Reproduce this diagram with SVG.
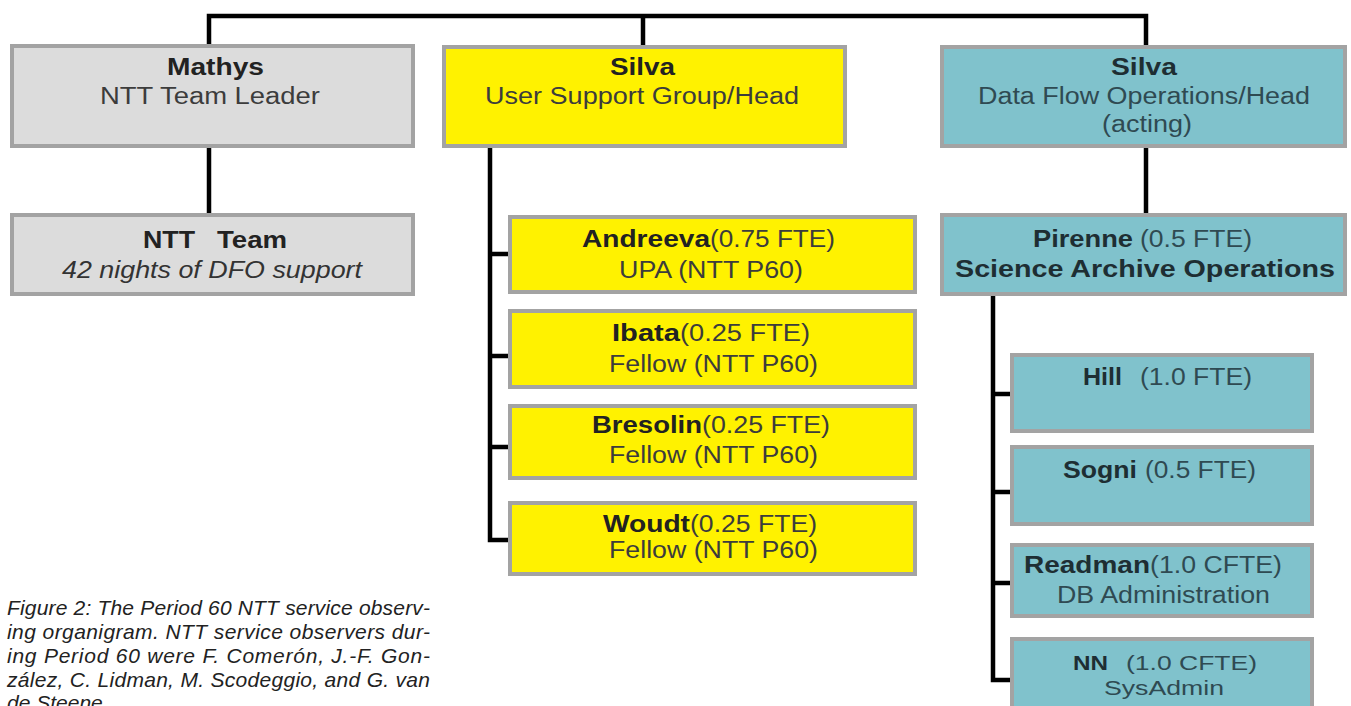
<svg xmlns="http://www.w3.org/2000/svg" width="1351" height="706" viewBox="0 0 1351 706">
<style>
.box{stroke:#a3a3a3;stroke-width:4}
.gray{fill:#dcdcdc}
.yel{fill:#fff200}
.cyan{fill:#80c2cc}
text{font-family:"Liberation Sans",Arial,sans-serif;font-size:23px}
.b{font-weight:bold;fill:#222}
.r{fill:#3c3c3c}
.rc{fill:#2f4a52}
.bc{font-weight:bold;fill:#1e2e33}
.it{font-style:italic;fill:#333}
.cap{font-style:italic;fill:#222;font-size:21px}
.sm{font-size:20px}
.conn{fill:none;stroke:#000;stroke-width:4.5}
</style>
<g id="connectors">
<path class="conn" d="M209 44 V16 H1146 V45"/>
<path class="conn" d="M643 16 V45"/>
<path class="conn" d="M209 148 V213"/>
<path class="conn" d="M1146 148 V213"/>
<path class="conn" d="M490 148 V540 H508"/>
<path class="conn" d="M490 254 H508 M490 356 H508 M490 447 H508"/>
<path class="conn" d="M993 295 V680 H1010"/>
<path class="conn" d="M993 394 H1010 M993 492 H1010 M993 583 H1010"/>
</g>
<g id="mathys">
<rect class="box gray" x="12" y="46" width="401" height="100"/>
<text class="b" x="167" y="75" textLength="97" lengthAdjust="spacingAndGlyphs">Mathys</text>
<text class="r" x="100" y="104" textLength="220" lengthAdjust="spacingAndGlyphs">NTT Team Leader</text>
</g>
<g id="ntt-team">
<rect class="box gray" x="12" y="215" width="401" height="79"/>
<text class="b" x="143" y="248" textLength="52" lengthAdjust="spacingAndGlyphs">NTT</text>
<text class="b" x="217" y="248" textLength="70" lengthAdjust="spacingAndGlyphs">Team</text>
<text class="it" x="62" y="278" textLength="300" lengthAdjust="spacingAndGlyphs">42 nights of DFO support</text>
</g>
<g id="silva-usg">
<rect class="box yel" x="444" y="47" width="401" height="99"/>
<text class="b" x="610" y="75" textLength="65" lengthAdjust="spacingAndGlyphs">Silva</text>
<text class="r" x="485" y="104" textLength="314" lengthAdjust="spacingAndGlyphs">User Support Group/Head</text>
</g>
<g id="silva-dfo">
<rect class="box cyan" x="942" y="47" width="403" height="99"/>
<text class="bc" x="1111" y="75" textLength="66" lengthAdjust="spacingAndGlyphs">Silva</text>
<text class="rc" x="978" y="104" textLength="332" lengthAdjust="spacingAndGlyphs">Data Flow Operations/Head</text>
<text class="rc" x="1102" y="132" textLength="90" lengthAdjust="spacingAndGlyphs">(acting)</text>
</g>
<g id="andreeva">
<rect class="box yel" x="510" y="217" width="405" height="75"/>
<text class="b" x="582" y="247" textLength="128" lengthAdjust="spacingAndGlyphs">Andreeva</text>
<text class="r" x="710" y="247" textLength="125" lengthAdjust="spacingAndGlyphs">(0.75 FTE)</text>
<text class="r" x="619" y="278" textLength="184" lengthAdjust="spacingAndGlyphs">UPA (NTT P60)</text>
</g>
<g id="ibata">
<rect class="box yel" x="510" y="311" width="405" height="76"/>
<text class="b" x="612" y="341" textLength="68" lengthAdjust="spacingAndGlyphs">Ibata</text>
<text class="r" x="680" y="341" textLength="130" lengthAdjust="spacingAndGlyphs">(0.25 FTE)</text>
<text class="r" x="609" y="372" textLength="209" lengthAdjust="spacingAndGlyphs">Fellow (NTT P60)</text>
</g>
<g id="bresolin">
<rect class="box yel" x="510" y="406" width="405" height="72"/>
<text class="b" x="592" y="433" textLength="110" lengthAdjust="spacingAndGlyphs">Bresolin</text>
<text class="r" x="702" y="433" textLength="128" lengthAdjust="spacingAndGlyphs">(0.25 FTE)</text>
<text class="r" x="609" y="463" textLength="209" lengthAdjust="spacingAndGlyphs">Fellow (NTT P60)</text>
</g>
<g id="woudt">
<rect class="box yel" x="510" y="503" width="405" height="71"/>
<text class="b" x="603" y="532" textLength="87" lengthAdjust="spacingAndGlyphs">Woudt</text>
<text class="r" x="690" y="532" textLength="127" lengthAdjust="spacingAndGlyphs">(0.25 FTE)</text>
<text class="r" x="609" y="558" textLength="209" lengthAdjust="spacingAndGlyphs">Fellow (NTT P60)</text>
</g>
<g id="pirenne">
<rect class="box cyan" x="942" y="215" width="403" height="79"/>
<text class="bc" x="1033" y="247" textLength="100" lengthAdjust="spacingAndGlyphs">Pirenne</text>
<text class="rc" x="1140" y="247" textLength="112" lengthAdjust="spacingAndGlyphs">(0.5 FTE)</text>
<text class="bc" x="955" y="277" textLength="380" lengthAdjust="spacingAndGlyphs">Science  Archive  Operations</text>
</g>
<g id="hill">
<rect class="box cyan" x="1012" y="355" width="300" height="76"/>
<text class="bc" x="1083" y="385" textLength="39" lengthAdjust="spacingAndGlyphs">Hill</text>
<text class="rc" x="1140" y="385" textLength="112" lengthAdjust="spacingAndGlyphs">(1.0 FTE)</text>
</g>
<g id="sogni">
<rect class="box cyan" x="1012" y="447" width="300" height="77"/>
<text class="bc" x="1063" y="478" textLength="74" lengthAdjust="spacingAndGlyphs">Sogni</text>
<text class="rc" x="1145" y="478" textLength="111" lengthAdjust="spacingAndGlyphs">(0.5 FTE)</text>
</g>
<g id="readman">
<rect class="box cyan" x="1012" y="545" width="300" height="71"/>
<text class="bc" x="1024" y="573" textLength="126" lengthAdjust="spacingAndGlyphs">Readman</text>
<text class="rc" x="1150" y="573" textLength="132" lengthAdjust="spacingAndGlyphs">(1.0 CFTE)</text>
<text class="rc" x="1057" y="603" textLength="213" lengthAdjust="spacingAndGlyphs">DB Administration</text>
</g>
<g id="nn">
<rect class="box cyan" x="1012" y="639" width="300" height="80"/>
<text class="bc sm" x="1073" y="670" textLength="35" lengthAdjust="spacingAndGlyphs">NN</text>
<text class="rc sm" x="1126" y="670" textLength="131" lengthAdjust="spacingAndGlyphs">(1.0 CFTE)</text>
<text class="rc sm" x="1104" y="695" textLength="120" lengthAdjust="spacingAndGlyphs">SysAdmin</text>
</g>
<g id="caption">
<text class="cap" x="7" y="615" textLength="423" lengthAdjust="spacing">Figure 2: The Period 60 NTT service observ-</text>
<text class="cap" x="7" y="639" textLength="423" lengthAdjust="spacing">ing organigram. NTT service observers dur-</text>
<text class="cap" x="7" y="663" textLength="423" lengthAdjust="spacing">ing Period 60 were F. Comerón, J.-F. Gon-</text>
<text class="cap" x="7" y="687" textLength="423" lengthAdjust="spacing">zález, C. Lidman, M. Scodeggio, and G. van</text>
<text class="cap" x="7" y="710">de Steene</text>
</g>
</svg>
